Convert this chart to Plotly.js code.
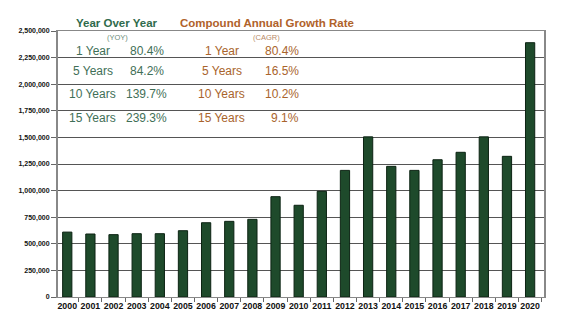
<!DOCTYPE html>
<html><head><meta charset="utf-8">
<script src="https://cdn.plot.ly/plotly-3.0.1.min.js"></script>
<style>html,body{margin:0;padding:0;background:#fff}#chart{width:564px;height:324px}</style>
</head><body><div id="chart"></div>
<script>
const years = ["2000","2001","2002","2003","2004","2005","2006","2007","2008","2009","2010","2011","2012","2013","2014","2015","2016","2017","2018","2019","2020"];
const values = [610000,592000,586000,595000,595000,623000,698000,711000,730000,943000,862000,993000,1190000,1505000,1228000,1190000,1290000,1360000,1505000,1322000,2390000];
const yTickVals = [0,250000,500000,750000,1000000,1250000,1500000,1750000,2000000,2250000,2500000];
const yTickText = ["0","250,000","500,000","750,000","1,000,000","1,250,000","1,500,000","1,750,000","2,000,000","2,250,000","2,500,000"];
const periods = ["1 Year","5 Years","10 Years","15 Years"];
const yoy = ["80.4%","84.2%","139.7%","239.3%"];
const cagr = ["80.4%","16.5%","10.2%","9.1%"];

const green = "#3f6f57", orange = "#a9642c";
const F = "Arial, Liberation Sans";
const ann = [];
const rowY = [0.925, 0.850, 0.763, 0.673];
ann.push({x:0.121, y:1.030, xref:"paper", yref:"paper", text:"<b>Year Over Year</b>", showarrow:false, font:{family:F, size:11.5, color:"#2f6b4c"}, xanchor:"center", yanchor:"middle"});
ann.push({x:0.247, y:1.030, xref:"paper", yref:"paper", text:"<b>Compound Annual Growth Rate</b>", showarrow:false, font:{family:F, size:11.5, color:"#b0622a"}, xanchor:"left", yanchor:"middle"});
ann.push({x:0.122, y:0.977, xref:"paper", yref:"paper", text:"(YOY)", showarrow:false, font:{family:F, size:7.5, color:"#6a8a78"}, xanchor:"center", yanchor:"middle"});
ann.push({x:0.428, y:0.977, xref:"paper", yref:"paper", text:"(CAGR)", showarrow:false, font:{family:F, size:7.5, color:"#b88a66"}, xanchor:"center", yanchor:"middle"});
periods.forEach((p,i)=>{
  ann.push({x:0.072, y:rowY[i], xref:"paper", yref:"paper", text:p, showarrow:false, font:{family:F, size:12, color:green}, xanchor:"center", yanchor:"middle"});
  ann.push({x:0.183, y:rowY[i], xref:"paper", yref:"paper", text:yoy[i], showarrow:false, font:{family:F, size:12, color:green}, xanchor:"center", yanchor:"middle"});
  ann.push({x:0.337, y:rowY[i], xref:"paper", yref:"paper", text:p, showarrow:false, font:{family:F, size:12, color:orange}, xanchor:"center", yanchor:"middle"});
  ann.push({x:0.5, y:rowY[i], xref:"paper", yref:"paper", text:cagr[i], showarrow:false, font:{family:F, size:12, color:orange}, xanchor:"right", yanchor:"middle"});
});

const trace = {
  type:"bar", x:years, y:values, width:0.4,
  marker:{color:"#1e4a2b", line:{color:"#0c2313", width:1}},
  hoverinfo:"skip"
};
const layout = {
  width:564, height:324,
  margin:{l:58, r:20, t:31, b:27},
  paper_bgcolor:"#fff", plot_bgcolor:"#fff",
  showlegend:false,
  xaxis:{type:"category", range:[-0.4,20.6], showgrid:false, showline:true, linecolor:"#888", linewidth:1, mirror:true,
    ticks:"outside", ticklen:4, tickcolor:"#666", tickson:"boundaries", tickangle:0, automargin:false,
    tickfont:{family:F, size:8.8, color:"#111", weight:"bold"}},
  yaxis:{range:[0,2500000], tickvals:yTickVals, ticktext:yTickText, showgrid:true, gridcolor:"#555", gridwidth:1,
    showline:true, linecolor:"#888", linewidth:2, mirror:true, ticks:"outside", ticklen:5, tickcolor:"#666",
    zeroline:false, automargin:false,
    tickfont:{family:F, size:7, color:"#111", weight:"bold"}},
  annotations:ann
};
Plotly.newPlot("chart",[trace],layout,{displayModeBar:false, staticPlot:true});
</script></body></html>
